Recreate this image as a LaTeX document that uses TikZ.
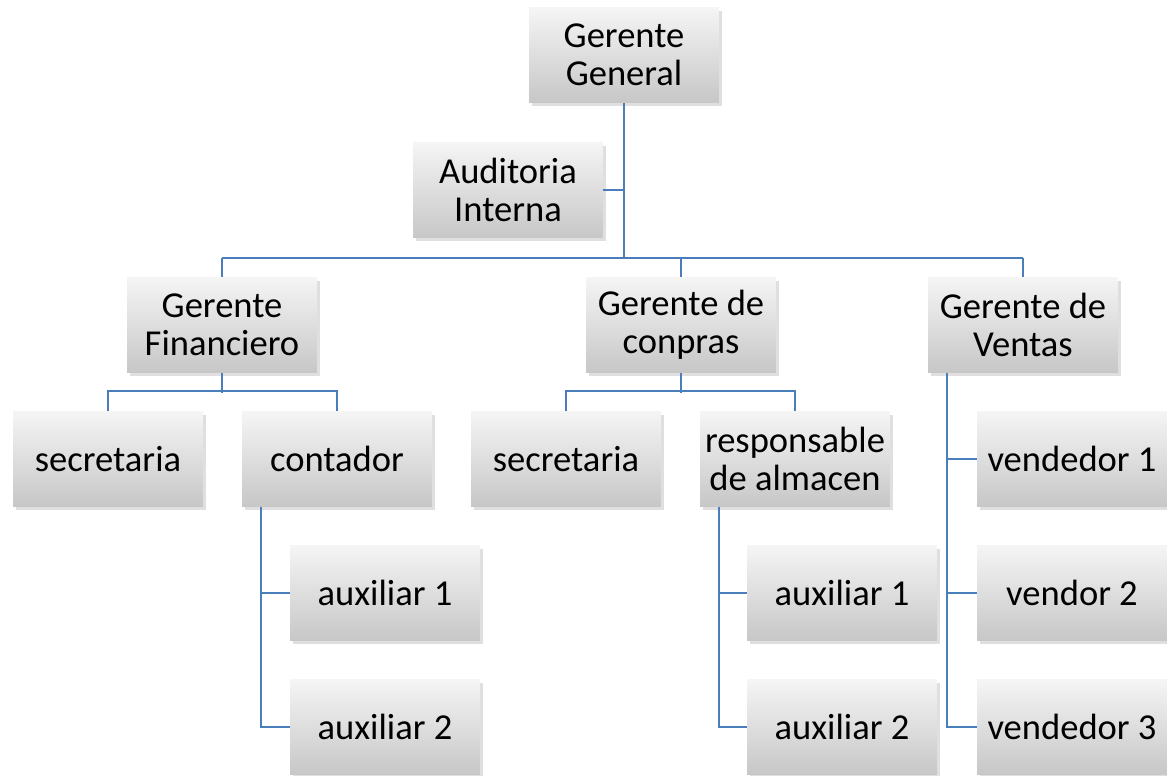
\documentclass[tikz,border=0pt]{standalone}
\usepackage{fontspec}
\setmainfont{Carlito}
\usetikzlibrary{shadows}
\definecolor{orgline}{HTML}{4A7EBB}
\newcommand{\unit}[3]
{
\node[unitbox] (#1) at (#2) {#3};
}

\begin{document}
\begin{tikzpicture}[x=0.02cm, y=-0.02cm,
  unitbox/.style={rectangle, top color=white!96!black, bottom color=black!22,
    minimum width=3.8cm, minimum height=1.9cm, inner sep=0pt, align=center,
    font=\fontsize{20.8}{21.6}\selectfont,
    drop shadow={shadow xshift=1.5pt, shadow yshift=-2pt, opacity=0.25}},
  orgedge/.style={draw=orgline, line width=1.1pt}
  ]
  \useasboundingbox (0,0) rectangle (1167,776);

  \unit{gg}{624,55}{Gerente\\General}
  \unit{ai}{508,190}{Auditoria\\Interna}

  \unit{gf}{222,325}{Gerente\\Financiero}
  \unit{gc}{681,325}{Gerente de\\conpras}
  \unit{gv}{1023,325}{Gerente de\\Ventas}

  % finanzas
  \unit{fsec}{108,459}{secretaria}
  \unit{fcont}{337,459}{contador}
  \unit{faux1}{385,593}{auxiliar 1}
  \unit{faux2}{385,727}{auxiliar 2}

  % compras
  \unit{csec}{566,459}{secretaria}
  \unit{cresp}{795,459}{responsable\\de almacen}
  \unit{caux1}{842,593}{auxiliar 1}
  \unit{caux2}{842,727}{auxiliar 2}

  % ventas
  \unit{vend1}{1072,459}{vendedor 1}
  \unit{vend2}{1072,593}{vendor 2}
  \unit{vend3}{1072,727}{vendedor 3}

  \coordinate (bus) at (0,258);
  \draw[orgedge] (gg) -- (gg |- bus);
  \draw[orgedge] (ai) -- (ai -| gg);
  \draw[orgedge] (gf |- bus) -- (gv |- bus);
  \foreach \n in {gf,gc,gv}
    \draw[orgedge] (\n |- bus) -- (\n);

  \draw[orgedge] (gf.south) -- ++(0,20);
  \draw[orgedge] (fsec.north) -- ++(0,-20) -| (fcont.north);
  \draw[orgedge] (gc.south) -- ++(0,20);
  \draw[orgedge] (csec.north) -- ++(0,-20) -| (cresp.north);

  \coordinate (fx) at ([xshift=0.38cm]fcont.south west);
  \draw[orgedge] (fx) |- (faux2.west);
  \draw[orgedge] (fx |- faux1.west) -- (faux1.west);

  \coordinate (cx) at ([xshift=0.38cm]cresp.south west);
  \draw[orgedge] (cx) |- (caux2.west);
  \draw[orgedge] (cx |- caux1.west) -- (caux1.west);

  \coordinate (vx) at ([xshift=0.38cm]gv.south west);
  \draw[orgedge] (vx) |- (vend3.west);
  \foreach \n in {vend1,vend2}
    \draw[orgedge] (vx |- \n.west) -- (\n.west);

\end{tikzpicture}
\end{document}
